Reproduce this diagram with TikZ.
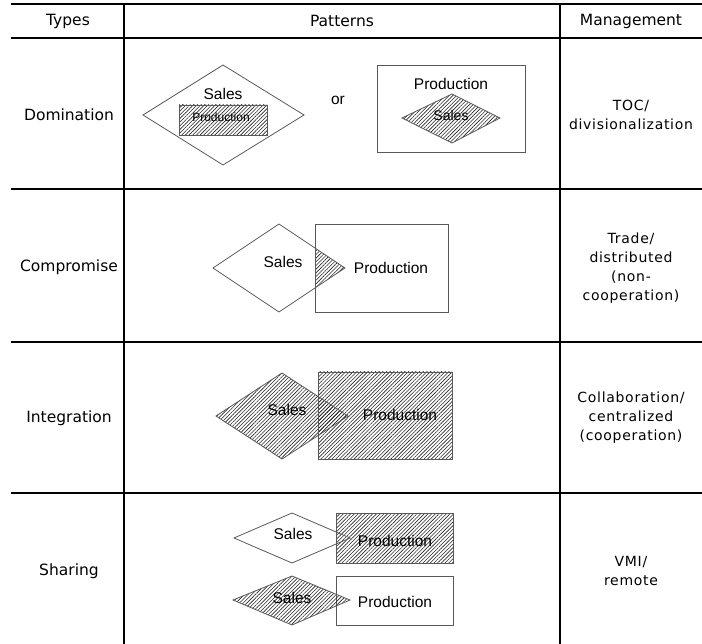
\documentclass[tikz,border=0pt]{standalone}
\usepackage{fontspec}
\setmainfont{DejaVu Sans}
\newfontfamily\labfont{Liberation Sans}
\newfontfamily\mgfont[LetterSpace=5]{DejaVu Sans}
\usetikzlibrary{patterns.meta}
\tikzset{
  hatch/.style={pattern={Lines[angle=45,distance=2.6pt,line width=0.6pt]}, pattern color=black!85},
  shp/.style={draw=black!65, line width=0.8pt},
  hrule/.style={line width=1.6pt},
  vrule/.style={line width=1.2pt},
  hdr/.style={font=\fontsize{15.5}{18}\selectfont, inner sep=0pt},
  typ/.style={font=\fontsize{15.5}{18}\selectfont, inner sep=0pt},
  mgt/.style={font=\mgfont\fontsize{14}{19}\selectfont, align=center, inner sep=0pt},
  lbl/.style={font=\labfont\fontsize{15.5}{18}\selectfont, inner sep=0pt},
  sml/.style={font=\labfont\fontsize{12}{14}\selectfont, inner sep=0pt},
}
\begin{document}
\begin{tikzpicture}[x=1pt,y=-1pt]
\useasboundingbox (0,0) rectangle (702,644);
% table rules
\draw[hrule] (11,4) -- (702,4);
\draw[hrule] (11,38) -- (702,38);
\draw[hrule] (11,189) -- (702,189);
\draw[hrule] (11,342) -- (702,342);
\draw[hrule] (11,493) -- (702,493);
\draw[vrule] (124,4) -- (124,644);
\draw[vrule] (560,4) -- (560,644);
% header
\node[hdr] (h1) at (68,21) {Types};
\node[hdr] (h2) at (342,21) {Patterns};
\node[hdr] (h3) at (631,21) {Management};
% types
\node[typ] (t1) at (69,115) {Domination};
\node[typ] (t2) at (69,267) {Compromise};
\node[typ] (t3) at (69,418) {Integration};
\node[typ] (t4) at (69,571) {Sharing};
% management
\node[mgt] (m1) at (631,115) {TOC/\\divisionalization};
\node[mgt] (m2) at (631,268) {Trade/\\distributed\\(non-\\cooperation)};
\node[mgt] (m3) at (631,418) {Collaboration/\\centralized\\(cooperation)};
\node[mgt] (m4) at (631,571) {VMI/\\remote};
% ---- Domination
\draw[shp] (143,115) -- (223,65) -- (304,115) -- (223,165) -- cycle;
\fill[hatch] (179,105) rectangle (267,135);
\draw[shp] (179,105) rectangle (267,135);
\node[lbl] (d1s) at (223,94) {Sales};
\node[sml] (d1p) at (221,117) {Production};
\node[lbl] (or) at (338,100) {or};
\draw[shp] (377,65) rectangle (525,152);
\fill[hatch] (402,118) -- (452,94) -- (500,118) -- (452,143) -- cycle;
\draw[shp] (402,118) -- (452,94) -- (500,118) -- (452,143) -- cycle;
\node[lbl] (d2p) at (451,84) {Production};
\node[lbl, font=\labfont\fontsize{14}{16}\selectfont] (d2s) at (451,115) {Sales};
% ---- Compromise
\begin{scope}
  \clip (315,224) rectangle (448,312);
  \fill[hatch] (213,268) -- (279,224) -- (345,268) -- (279,312) -- cycle;
\end{scope}
\draw[shp] (213,268) -- (279,224) -- (345,268) -- (279,312) -- cycle;
\draw[shp] (315,224) rectangle (448,312);
\node[lbl] (cs) at (283,262) {Sales};
\node[lbl] (cp) at (391,268) {Production};
% ---- Integration
\fill[hatch] (216,416) -- (282,373) -- (348,416) -- (282,459) -- cycle;
\fill[hatch] (318,372) rectangle (452,459);
\draw[shp] (318,372) rectangle (452,459);
\draw[shp] (216,416) -- (282,373) -- (348,416) -- (282,459) -- cycle;
\node[lbl] (is) at (287,410) {Sales};
\node[lbl] (ip) at (400,415) {Production};
% ---- Sharing top
\fill[hatch] (336,513) rectangle (453,563);
\draw[shp] (336,513) rectangle (453,563);
\draw[shp] (234,538) -- (292,513) -- (350,538) -- (292,563) -- cycle;
\node[lbl] (s1s) at (293,534) {Sales};
\node[lbl] (s1p) at (395,541) {Production};
% ---- Sharing bottom
\draw[shp] (336,576) rectangle (453,625);
\fill[hatch] (233,600) -- (292,576) -- (350,600) -- (292,625) -- cycle;
\draw[shp] (233,600) -- (292,576) -- (350,600) -- (292,625) -- cycle;
\node[lbl] (s2s) at (292,598) {Sales};
\node[lbl] (s2p) at (395,602) {Production};
\end{tikzpicture}
\end{document}
